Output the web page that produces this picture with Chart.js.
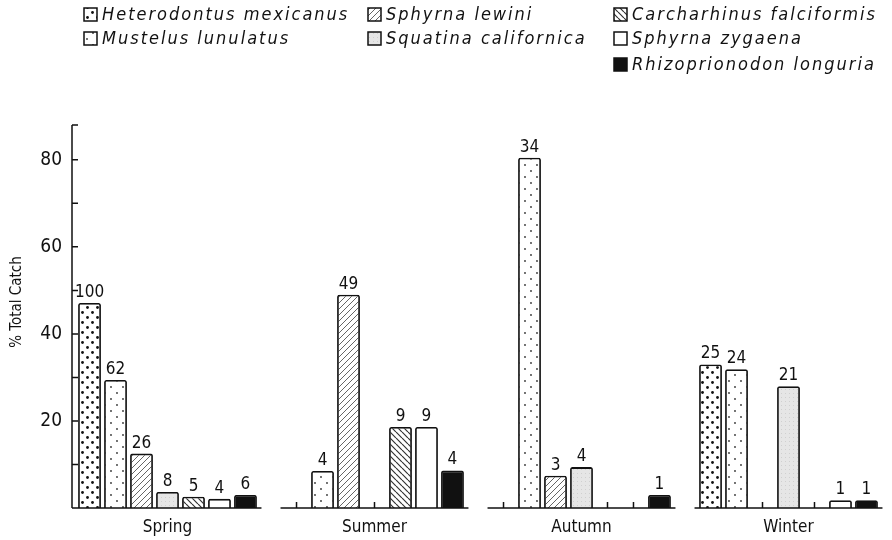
<!DOCTYPE html>
<html>
<head>
<meta charset="utf-8">
<script src="https://cdn.jsdelivr.net/npm/chart.js@4"></script>
<style>
  html, body { margin: 0; padding: 0; background: #fff; }
  #wrap { width: 892px; height: 540px; position: relative; }
</style>
</head>
<body>
<div id="wrap"><canvas id="catchChart"></canvas></div>
<script>
// seasons and species
const seasons = ['Spring', 'Summer', 'Autumn', 'Winter'];
const species = ['Heterodontus mexicanus', 'Mustelus lunulatus', 'Sphyrna lewini', 'Squatina californica',
                 'Carcharhinus falciformis', 'Sphyrna zygaena', 'Rhizoprionodon longuria'];

// % total catch per season (null = not caught)
const heterodontusPct = [47.1, null, null, 33.0];
const mustelusPct     = [29.4, 8.5, 80.5, 31.9];
const lewiniPct       = [12.5, 49.0, 7.4, null];
const squatinaPct     = [3.7, null, 9.4, 28.0];
const carcharhinusPct = [2.6, 18.6, null, null];
const zygaenaPct      = [2.1, 18.6, null, 1.8];
const rhizoPct        = [3.0, 8.6, 3.0, 1.8];

// number of sharks, written above each bar
const heterodontusN = [100, null, null, 25];
const mustelusN     = [62, 4, 34, 24];
const lewiniN       = [26, 49, 3, null];
const squatinaN     = [8, null, 4, 21];
const carcharhinusN = [5, 9, null, null];
const zygaenaN      = [4, 9, null, 1];
const rhizoN        = [6, 4, 1, 1];

const yLabelTicks = [20, 40, 60, 80];

const pctSeries = [heterodontusPct, mustelusPct, lewiniPct, squatinaPct, carcharhinusPct, zygaenaPct, rhizoPct];
const countSeries = [heterodontusN, mustelusN, lewiniN, squatinaN, carcharhinusN, zygaenaN, rhizoN];

const INK = '#111';
const FONT = "'DejaVu Sans Condensed', 'DejaVu Sans', sans-serif";
const CAT_PCT = 0.879;
const BAR_PCT = 0.88;

// --- fill patterns ---
function makePattern(w, h, draw) {
    const c = document.createElement('canvas');
    c.width = w; c.height = h;
    const g = c.getContext('2d');
    draw(g, w, h);
    return g.createPattern(c, 'repeat');
}
function dot(g, x, y, r) { g.beginPath(); g.arc(x, y, r, 0, Math.PI * 2); g.fill(); }
function hatch(dir, color, width) {
    return (g, s) => {
        g.fillStyle = '#fff'; g.fillRect(0, 0, s, s);
        g.strokeStyle = color; g.lineWidth = width;
        g.beginPath();
        for (let k = -1; k <= 1; k++) {
            if (dir === '/') { g.moveTo(k * s, s); g.lineTo(k * s + s, 0); }
            else { g.moveTo(k * s, 0); g.lineTo(k * s + s, s); }
        }
        g.stroke();
    };
}

const fills = [
    makePattern(10, 10, (g) => {
        g.fillStyle = '#fff'; g.fillRect(0, 0, 10, 10);
        g.fillStyle = INK; dot(g, 2.5, 2.5, 1.4); dot(g, 7.5, 7.5, 1.4);
    }),
    makePattern(12, 12, (g) => {
        g.fillStyle = '#fff'; g.fillRect(0, 0, 12, 12);
        g.fillStyle = '#333'; dot(g, 3, 3, 0.9); dot(g, 9, 9, 0.9);
    }),
    makePattern(6, 6, hatch('/', '#666', 1)),
    makePattern(4, 4, (g) => {
        g.fillStyle = '#e6e6e6'; g.fillRect(0, 0, 4, 4);
        g.fillStyle = '#d0d0d0'; g.fillRect(1, 1, 1, 1);
    }),
    makePattern(6, 6, hatch('\\', '#333', 1.2)),
    '#ffffff',
    '#111111'
];

// --- plugins: broken axes, counts above bars, legend, y title ---
const axesPlugin = {
    id: 'brokenAxes',
    afterDatasetsDraw(chart) {
        const { ctx, scales: { x, y } } = chart;
        const axisX = 72;
        const base = y.getPixelForValue(0);
        const slot = x.width / seasons.length * CAT_PCT / species.length;
        ctx.save();
        ctx.strokeStyle = INK;
        ctx.lineWidth = 1.5;
        ctx.beginPath();
        ctx.moveTo(axisX, y.getPixelForValue(y.max));
        ctx.lineTo(axisX, base);
        y.ticks.forEach(t => {
            if (t.value === 0) return;
            const py = y.getPixelForValue(t.value);
            ctx.moveTo(axisX, py);
            ctx.lineTo(axisX + 6, py);
        });
        seasons.forEach((s, i) => {
            const cx = x.getPixelForValue(i);
            const left = i === 0 ? axisX : cx - slot * 3.5 - 3;
            const right = cx + slot * 3.5 + 3;
            ctx.moveTo(left, base);
            ctx.lineTo(right, base);
            pctSeries.forEach((arr, j) => {
                if (arr[i] === null) {
                    const tx = cx + (j - 3) * slot;
                    ctx.moveTo(tx, base);
                    ctx.lineTo(tx, base - 6);
                }
            });
        });
        ctx.stroke();

        // counts above bars
        ctx.fillStyle = INK;
        ctx.font = `17px ${FONT}`;
        ctx.textAlign = 'center';
        ctx.textBaseline = 'bottom';
        chart.data.datasets.forEach((ds, j) => {
            const meta = chart.getDatasetMeta(j);
            meta.data.forEach((el, i) => {
                const n = countSeries[j][i];
                if (n === null) return;
                ctx.fillText(String(n), el.x, el.y - 2);
            });
        });
        ctx.restore();
    },
    afterDraw(chart) {
        const { ctx } = chart;
        ctx.save();
        // y axis title
        ctx.fillStyle = INK;
        ctx.font = `15px ${FONT}`;
        ctx.translate(17, 302);
        ctx.rotate(-Math.PI / 2);
        ctx.textAlign = 'center';
        ctx.textBaseline = 'middle';
        ctx.fillText('% Total Catch', 0, 0);
        ctx.restore();

        // legend in three columns
        const spots = [[84, 15], [84, 39], [368, 15], [368, 39], [614, 15], [614, 39], [614, 65]];
        ctx.save();
        ctx.font = `italic 18px ${FONT}`;
        ctx.letterSpacing = '2px';
        ctx.textBaseline = 'middle';
        chart.data.datasets.forEach((ds, j) => {
            const [sx, sy] = spots[j];
            ctx.fillStyle = ds.backgroundColor;
            ctx.fillRect(sx, sy - 7, 13, 13);
            ctx.strokeStyle = INK;
            ctx.lineWidth = 1.5;
            ctx.strokeRect(sx, sy - 7, 13, 13);
            ctx.fillStyle = INK;
            ctx.fillText(ds.label, sx + 18, sy);
        });
        ctx.restore();
    }
};

new Chart(document.getElementById('catchChart'), {
    type: 'bar',
    data: {
        labels: seasons,
        datasets: species.map((name, j) => ({
            label: name,
            data: pctSeries[j],
            backgroundColor: fills[j],
            borderColor: INK,
            borderWidth: 1.8,
            borderSkipped: 'bottom',
            borderRadius: { topLeft: 2, topRight: 2 },
            categoryPercentage: CAT_PCT,
            barPercentage: BAR_PCT
        }))
    },
    options: {
        responsive: true,
        maintainAspectRatio: false,
        animation: false,
        layout: { padding: { top: 125, right: 0, left: 0, bottom: 0 } },
        plugins: {
            legend: { display: false },
            tooltip: { enabled: false }
        },
        scales: {
            x: {
                grid: { display: false, drawTicks: false },
                border: { display: false },
                ticks: { color: INK, font: { family: FONT, size: 17 }, padding: 9 },
                afterFit(s) { s.height = 32; }
            },
            y: {
                min: 0,
                max: 88,
                grid: { display: false, drawTicks: false },
                border: { display: false },
                ticks: {
                    stepSize: 10,
                    padding: 2,
                    color: INK,
                    font: { family: FONT, size: 19 },
                    callback: v => yLabelTicks.includes(v) ? String(v) : ''
                },
                afterFit(s) { s.width = 64; }
            }
        }
    },
    plugins: [axesPlugin]
});
</script>
</body>
</html>
